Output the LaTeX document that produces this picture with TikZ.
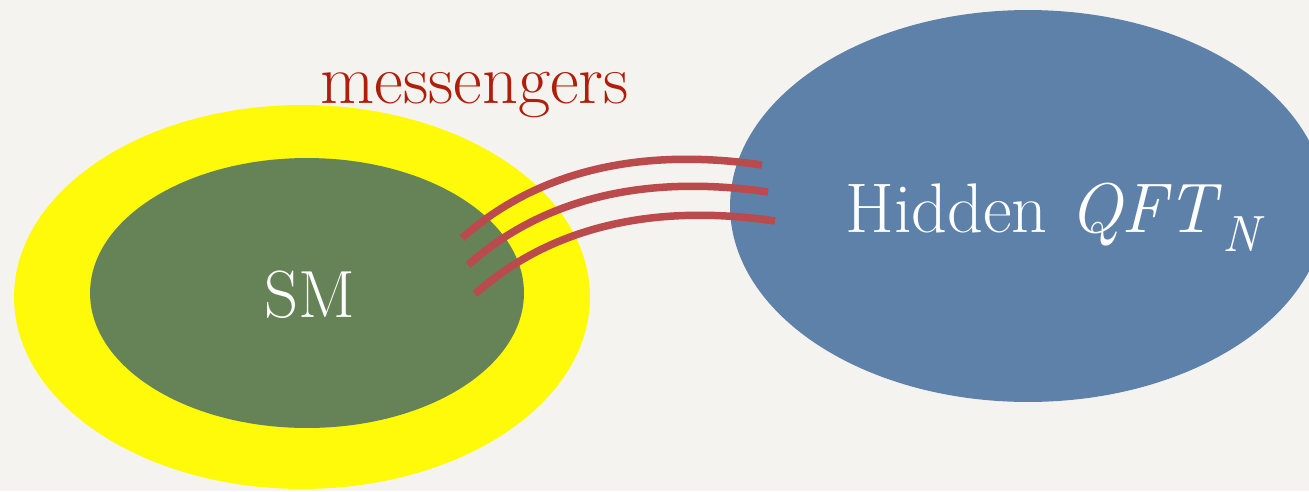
\documentclass[tikz,border=0pt]{standalone}
\usepackage{tikz}
\usetikzlibrary{shapes.geometric, positioning, calc}
\definecolor{paper}{RGB}{245,243,239}
\definecolor{glow}{RGB}{255,250,10}
\definecolor{smgreen}{RGB}{101,131,87}
\definecolor{hidblue}{RGB}{94,129,170}
\definecolor{linkred}{RGB}{186,74,76}
\definecolor{messred}{RGB}{176,30,10}
\begin{document}
\begin{tikzpicture}[x=0.02cm, y=-0.02cm,
	blob/.style={ellipse, inner sep=0pt, draw=none},
	tag/.style={inner sep=0pt, anchor=base west, text=white},
	messenger/.style={linkred, line width=7.5*0.02cm}]
	\fill[paper] (0,0) rectangle (1309,491);
	\clip (0,0) rectangle (1309,491);
	% sectors
	\node[blob, fill=glow, minimum width=11.52cm, minimum height=7.68cm] (cloud) at (302,297) {};
	\node[blob, fill=smgreen, minimum width=8.68cm, minimum height=5.4cm] (sm) at (307,293) {};
	\node[blob, fill=hidblue, minimum width=11.92cm, minimum height=7.84cm] (hidden) at (1028,206) {};
	% labels
	\node[tag, font=\fontsize{38}{42}\selectfont] (smtext) at (264,317) {SM};
	\node[tag, font=\fontsize{40}{44}\selectfont] (hidtext) at (845,232)
		{Hidden \textit{QFT}\raisebox{-0.28em}{\fontsize{29}{30}\selectfont\textit{N}}};
	\node[tag, text=messred, font=\fontsize{40}{44}\selectfont] (messtext) at (320,103) {messengers};
	% messenger lines
	\foreach \i/\dx/\dy in {1/0/0, 2/6/27, 3/13/56} {
		\coordinate (s\i) at (462+\dx,238+\dy);
		\coordinate (h\i) at (762+\dx,165+\dy);
		\draw[messenger] (s\i) .. controls +(90,-80) and +(-95,-14) .. (h\i);
	}
\end{tikzpicture}
\end{document}
